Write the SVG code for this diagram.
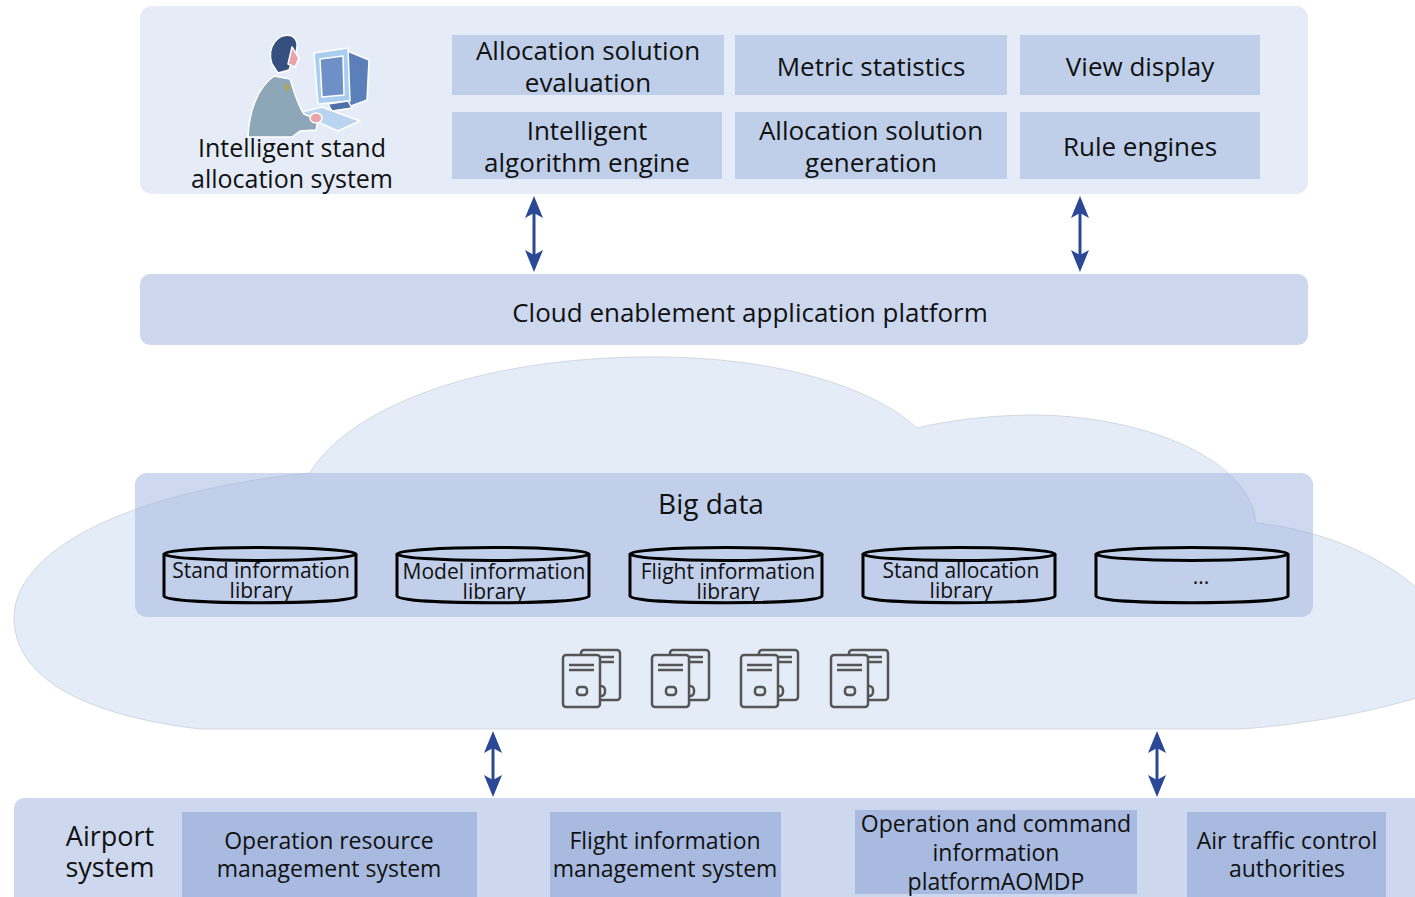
<svg xmlns="http://www.w3.org/2000/svg" width="1415" height="897" viewBox="0 0 1415 897">
  <style>
    .t { font-family: "Open Sans", "Noto Sans", "Liberation Sans", sans-serif; fill: #111; text-anchor: middle; }
    .f28 { font-size: 28px; }
    .f26 { font-size: 26px; }
    .f25 { font-size: 25px; }
    .f23 { font-size: 23px; }
    .f21 { font-size: 21px; }
    .f27 { font-size: 27px; }
    .panel { fill: #e5ecf8; }
    .module { fill: #bfcfea; }
    .bar { fill: #cdd8ef; }
    .sys { fill: #a8bae0; }
    .cyl { fill: none; stroke: #000; stroke-width: 3; }
    .srv { fill: #e4ecf8; stroke: #555; stroke-width: 2.5; }
    .srvl { stroke: #555; stroke-width: 2.5; fill: none; }
    .link { stroke: #2b4896; stroke-width: 3; fill: none; marker-start: url(#head); marker-end: url(#head); }
  </style>
  <defs>
    <marker id="head" viewBox="0 0 22 18" refX="13" refY="9" markerWidth="22" markerHeight="18" markerUnits="userSpaceOnUse" orient="auto-start-reverse">
      <path d="M0,0 L22,9 L0,18 L5,9 Z" fill="#2b4896"/>
    </marker>
    <g id="server">
      <rect class="srv" x="18" y="0" width="39" height="50" rx="3"/>
      <line class="srvl" x1="24" y1="7" x2="51" y2="7"/>
      <line class="srvl" x1="24" y1="12" x2="51" y2="12"/>
      <rect class="srv" x="32" y="36" width="10" height="10" rx="4"/>
      <rect class="srv" x="0" y="5" width="37" height="52" rx="3"/>
      <line class="srvl" x1="6" y1="15" x2="31" y2="15"/>
      <line class="srvl" x1="6" y1="20" x2="31" y2="20"/>
      <rect class="srv" x="14" y="37" width="10" height="8" rx="3"/>
    </g>
    <g id="drum">
      <path class="cyl" d="M0,10 L0,52 C0,61 192,61 192,52 L192,10"/>
      <ellipse class="cyl" cx="96" cy="10" rx="96" ry="6.5"/>
    </g>
  </defs>

  <!-- application layer -->
  <g id="app-layer">
    <rect class="panel" x="140" y="6" width="1168" height="188" rx="12"/>
  </g>

  <g id="stand-system">
    <!-- operator at a workstation -->
    <g stroke="#fff" stroke-width="1.5" stroke-linejoin="round">
      <polygon points="345,50 369,60 367,100 346,108" fill="#5b7fb8"/>
      <polygon points="314,53 348,48 350,101 318,104" fill="#a9cdee"/>
      <polygon points="320,59 343,56 344,95 322,97" fill="#6d91c7"/>
      <polygon points="328,104 348,101 352,108 332,111" fill="#4f6fa8"/>
      <polygon points="298,113 322,107 360,121 338,131" fill="#b9d4ef"/>
      <path d="M248,137 C249,112 257,88 274,76 L290,79 C294,92 298,106 304,114 L318,120 L316,130 L300,131 L292,137 Z" fill="#8ea7b8"/>
      <path d="M272,64 C266,46 279,32 292,36 C299,40 298,50 294,56 L289,70 L278,73 Z" fill="#35507e"/>
      <polygon points="292,47 299,58 295,67 288,64" fill="#e9a3ab"/>
      <ellipse cx="316" cy="118" rx="6" ry="5" fill="#e9a3ab"/>
      <polygon points="284,84 290,86 287,92" fill="#b4a640" stroke="none"/>
    </g>
    <text class="t f25" x="292" y="157">Intelligent stand</text>
    <text class="t f25" x="292" y="188">allocation system</text>
  </g>

  <g id="evaluation">
    <rect class="module" x="452" y="35" width="272" height="60"/>
    <text class="t f26" x="588" y="60">Allocation solution</text>
    <text class="t f26" x="588" y="92">evaluation</text>
  </g>
  <g id="metrics">
    <rect class="module" x="735" y="35" width="272" height="60"/>
    <text class="t f26" x="871" y="76">Metric statistics</text>
  </g>
  <g id="view">
    <rect class="module" x="1020" y="35" width="240" height="60"/>
    <text class="t f26" x="1140" y="76">View display</text>
  </g>
  <g id="algorithm">
    <rect class="module" x="452" y="112" width="270" height="67"/>
    <text class="t f26" x="587" y="140">Intelligent</text>
    <text class="t f26" x="587" y="172">algorithm engine</text>
  </g>
  <g id="generation">
    <rect class="module" x="735" y="112" width="272" height="67"/>
    <text class="t f26" x="871" y="140">Allocation solution</text>
    <text class="t f26" x="871" y="172">generation</text>
  </g>
  <g id="rules">
    <rect class="module" x="1020" y="112" width="240" height="67"/>
    <text class="t f26" x="1140" y="156">Rule engines</text>
  </g>

  <!-- platform layer -->
  <g id="platform">
    <rect class="bar" x="140" y="274" width="1168" height="71" rx="10"/>
    <text class="t f26" x="750" y="322">Cloud enablement application platform</text>
  </g>

  <!-- data cloud -->
  <g id="cloud">
    <path d="M200,729 C90,716 12,680 14,615 C18,545 140,490 310,473 C340,420 450,360 640,357 C770,355 870,385 917,428 C960,418 1000,415 1040,415 C1150,418 1250,460 1256,523 C1320,530 1390,555 1440,610 L1440,690 C1380,712 1300,725 1240,729 Z" fill="#e4ecf8" stroke="#d2d8e2" stroke-width="1"/>
  </g>

  <g id="big-data">
    <rect x="135" y="473" width="1178" height="144" rx="12" fill="#9db1dd" fill-opacity="0.5"/>
    <text class="t f28" x="711" y="514">Big data</text>
  </g>

  <g id="stand-info-lib">
    <use href="#drum" x="164" y="544"/>
    <text class="t f21" x="261" y="578">Stand information</text>
    <text class="t f21" x="261" y="598">library</text>
  </g>
  <g id="model-info-lib">
    <use href="#drum" x="397" y="544"/>
    <text class="t f21" x="494" y="579">Model information</text>
    <text class="t f21" x="494" y="599">library</text>
  </g>
  <g id="flight-info-lib">
    <use href="#drum" x="630" y="544"/>
    <text class="t f21" x="728" y="579">Flight information</text>
    <text class="t f21" x="728" y="599">library</text>
  </g>
  <g id="stand-alloc-lib">
    <use href="#drum" x="863" y="544"/>
    <text class="t f21" x="961" y="578">Stand allocation</text>
    <text class="t f21" x="961" y="598">library</text>
  </g>
  <g id="more-lib">
    <use href="#drum" x="1096" y="544"/>
    <text class="t f21" x="1201" y="584">...</text>
  </g>

  <g id="servers">
    <use href="#server" x="563" y="650"/>
    <use href="#server" x="652" y="650"/>
    <use href="#server" x="741" y="650"/>
    <use href="#server" x="831" y="650"/>
  </g>

  <!-- airport systems -->
  <g id="airport">
    <rect class="bar" x="14" y="798" width="1430" height="130" rx="10"/>
    <text class="t f27" x="110" y="846">Airport</text>
    <text class="t f27" x="110" y="877">system</text>
  </g>
  <g id="resource-mgmt">
    <rect class="sys" x="182" y="812" width="295" height="85"/>
    <text class="t f23" x="329" y="849">Operation resource</text>
    <text class="t f23" x="329" y="877">management system</text>
  </g>
  <g id="flight-mgmt">
    <rect class="sys" x="550" y="812" width="231" height="85"/>
    <text class="t f23" x="665" y="849">Flight information</text>
    <text class="t f23" x="665" y="877">management system</text>
  </g>
  <g id="aomdp">
    <rect class="sys" x="855" y="810" width="282" height="84"/>
    <text class="t f23" x="996" y="832">Operation and command</text>
    <text class="t f23" x="996" y="861">information</text>
    <text class="t f23" x="996" y="890">platformAOMDP</text>
  </g>
  <g id="atc">
    <rect class="sys" x="1187" y="812" width="199" height="85"/>
    <text class="t f23" x="1287" y="849">Air traffic control</text>
    <text class="t f23" x="1287" y="877">authorities</text>
  </g>

  <!-- connectors -->
  <g id="connectors">
    <line class="link" x1="534" y1="205" x2="534" y2="263"/>
    <line class="link" x1="1080" y1="205" x2="1080" y2="263"/>
    <line class="link" x1="493" y1="740" x2="493" y2="788"/>
    <line class="link" x1="1157" y1="740" x2="1157" y2="788"/>
  </g>
</svg>
